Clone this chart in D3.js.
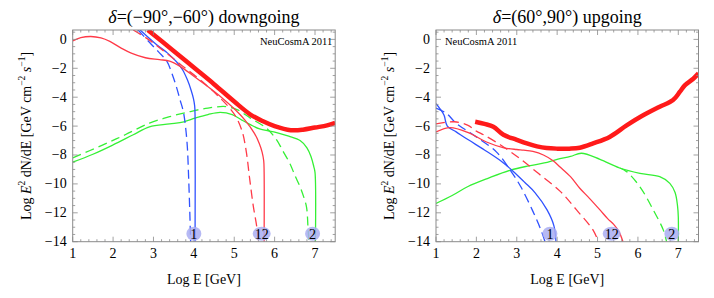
<!DOCTYPE html>
<html>
<head>
<meta charset="utf-8">
<script src="https://cdn.jsdelivr.net/npm/d3@7"></script>
<style>
  body { margin: 0; background: #fff; }
  svg text { font-family: "Liberation Serif", "Times New Roman", serif; }
</style>
</head>
<body>
<div id="chart"></div>
<script>
// tick values
var xTicks = [1, 2, 3, 4, 5, 6, 7];
var yTicks = [0, -2, -4, -6, -8, -10, -12, -14];

// downgoing panel, [log E, log flux]
var downThick = [[2.86,0.65],[3.5,-0.8],[4,-1.95],[4.5,-3.1],[5,-4.3],[5.4,-5.2],[5.7,-5.65],[6.0,-6.0],[6.4,-6.28],[6.7,-6.25],[7.0,-6.1],[7.3,-5.95],[7.5,-5.78]];
var downRedSolid = [[1,-0.1],[1.2,0.12],[1.45,0.2],[1.7,0.1],[1.92,-0.14],[2.2,-0.6],[2.45,-0.95],[2.8,-1.27],[3.15,-1.4],[3.4,-1.5],[3.65,-1.85],[4.0,-2.55],[4.36,-3.3],[4.7,-4.05],[5.0,-4.8],[5.27,-5.6],[5.5,-6.5],[5.62,-7.2],[5.69,-7.8],[5.73,-8.4],[5.74,-9.2],[5.74,-14]];
var downRedDash = [[2.5,0.65],[2.9,-0.05],[3.3,-0.9],[3.7,-1.8],[4.2,-2.9],[4.65,-4.05],[4.9,-4.8],[5.05,-5.4],[5.2,-6.4],[5.3,-7.8],[5.38,-9.6],[5.47,-11.5],[5.56,-13],[5.6,-14]];
var downBlueSolid = [[2.67,0.65],[3.08,-0.37],[3.35,-0.95],[3.57,-1.55],[3.72,-2.1],[3.84,-2.8],[3.93,-3.5],[3.99,-4.1],[4.02,-4.6],[4.03,-5.3],[4.03,-14]];
var downBlueDash = [[2.62,0.65],[2.9,-0.2],[3.12,-0.85],[3.33,-1.5],[3.45,-2.3],[3.57,-3.3],[3.66,-4.2],[3.74,-5.0],[3.8,-6.2],[3.84,-7.5],[3.87,-9.5],[3.9,-12],[3.92,-14]];
var downGreenSolid = [[1,-8.5],[1.5,-7.95],[2.0,-7.3],[2.5,-6.6],[2.9,-6.05],[3.4,-5.85],[3.75,-5.7],[4.03,-5.45],[4.35,-5.2],[4.65,-5.05],[4.95,-5.2],[5.2,-5.6],[5.4,-5.9],[5.63,-6.2],[6.05,-6.45],[6.35,-6.7],[6.63,-7.0],[6.8,-7.5],[6.9,-8.1],[6.97,-8.8],[7.0,-9.2],[7.01,-14]];
var downGreenDash = [[1,-8.2],[1.75,-7.3],[2.3,-6.6],[2.9,-5.8],[3.4,-5.35],[3.9,-5.0],[4.35,-4.75],[4.8,-4.65],[5.1,-4.9],[5.4,-5.45],[5.8,-6.15],[6.05,-6.95],[6.2,-7.7],[6.38,-8.6],[6.5,-9.4],[6.63,-10.2],[6.72,-10.9],[6.79,-11.6],[6.83,-13.2],[6.85,-14]];
var downLabels = [["1", 4.0], ["12", 5.68], ["2", 6.94]];

// upgoing panel
var upThick = [[1.97,-5.7],[2.2,-5.85],[2.42,-6.04],[2.67,-6.6],[3.0,-6.95],[3.25,-7.2],[3.5,-7.4],[3.74,-7.52],[4.0,-7.56],[4.3,-7.56],[4.56,-7.5],[4.89,-7.2],[5.3,-6.75],[5.72,-5.95],[6.13,-5.25],[6.54,-4.66],[6.87,-4.2],[7.04,-3.62],[7.16,-3.18],[7.37,-2.72],[7.5,-2.35]];
var upRedSolid = [[1,-6.4],[1.35,-6.1],[1.8,-6.45],[2.25,-7.1],[2.68,-7.5],[3.0,-7.62],[3.17,-7.66],[3.4,-7.75],[3.66,-8.0],[3.9,-8.4],[4.08,-8.85],[4.33,-9.5],[4.56,-10.3],[4.8,-11.0],[5.06,-11.8],[5.25,-12.4],[5.4,-12.8],[5.53,-13.3],[5.63,-14]];
var upRedDash = [[1,-5.85],[1.45,-5.7],[1.78,-5.93],[2.0,-6.35],[2.19,-6.62],[2.6,-7.31],[3.1,-8.3],[3.5,-9.2],[4.07,-10.5],[4.48,-11.8],[4.89,-13.2],[5.02,-14]];
var upBlueSolid = [[1,-4.45],[1.1,-4.8],[1.2,-5.25],[1.28,-6.0],[1.5,-6.4],[1.8,-6.95],[2.2,-7.65],[2.6,-8.4],[2.9,-9.1],[3.2,-9.9],[3.45,-10.6],[3.75,-11.8],[3.92,-12.9],[3.97,-14]];
var upBlueDash = [[1,-4.75],[1.25,-5.1],[1.5,-5.8],[2.0,-6.75],[2.5,-7.8],[2.85,-9.1],[3.1,-10.2],[3.4,-11.9],[3.6,-13.2],[3.7,-14]];
var upGreenSolid = [[1,-11.35],[1.4,-10.8],[1.78,-10.2],[2.3,-9.6],[2.85,-9.04],[3.3,-8.75],[3.68,-8.55],[4.0,-8.3],[4.33,-8.1],[4.6,-7.88],[5.06,-8.3],[5.55,-8.9],[6.05,-9.27],[6.54,-9.5],[6.79,-9.96],[6.92,-10.6],[6.98,-11.5],[7.0,-12.3],[7.0,-14]];
var upGreenDash = [[5.55,-8.9],[5.72,-9.15],[6.05,-10.2],[6.38,-11.8],[6.63,-13.2],[6.71,-14]];
var upLabels = [["1", 3.82], ["12", 5.35], ["2", 6.84]];

var svgWidth = 714;
var svgHeight = 298;

var svg = d3.select("#chart")
  .append("svg")
  .attr("width", svgWidth)
  .attr("height", svgHeight);

var RED = "#ff1a1a", THIN_RED = "#ff3a48", BLUE = "#3052ff", GREEN = "#35f035";

function drawPanel(p) {
  var x = d3.scaleLinear().domain([1, 7.5]).range([p.left, p.left + 262.5]);
  var y = d3.scaleLinear().domain([-14, 0.65]).range([241.7, 30]);
  var g = svg.append("g");

  g.append("clipPath").attr("id", p.id)
    .append("rect")
    .attr("x", x(1)).attr("y", y(0.65))
    .attr("width", x(7.5) - x(1)).attr("height", y(-14) - y(0.65));

  var line = d3.line()
    .x(d => x(d[0]))
    .y(d => y(d[1]))
    .curve(d3.curveCatmullRom.alpha(0.5));

  var curves = g.append("g").attr("clip-path", "url(#" + p.id + ")");
  p.series.forEach(function(s) {
    curves.append("path")
      .attr("d", line(s.data))
      .attr("fill", "none")
      .attr("stroke", s.color)
      .attr("stroke-width", s.width)
      .attr("stroke-dasharray", s.dash || null)
      .attr("stroke-linejoin", "round");
  });

  // frame
  g.append("rect")
    .attr("x", x(1)).attr("y", y(0.65))
    .attr("width", x(7.5) - x(1)).attr("height", y(-14) - y(0.65))
    .attr("fill", "none").attr("stroke", "#8a8a8a").attr("stroke-width", 1);

  // ticks, inward on all sides
  var ticks = g.append("g").attr("stroke", "#8a8a8a").attr("stroke-width", 0.8);
  d3.range(1, 7.5001, 0.2).forEach(function(v) {
    var major = Math.abs(v - Math.round(v)) < 1e-6;
    var len = major ? 5 : 2.5;
    ticks.append("line").attr("x1", x(v)).attr("x2", x(v)).attr("y1", y(-14)).attr("y2", y(-14) - len);
    ticks.append("line").attr("x1", x(v)).attr("x2", x(v)).attr("y1", y(0.65)).attr("y2", y(0.65) + len);
  });
  d3.range(-14, 0.6, 0.5).forEach(function(v) {
    var major = Math.abs(v / 2 - Math.round(v / 2)) < 1e-6;
    var len = major ? 5 : 2.5;
    ticks.append("line").attr("y1", y(v)).attr("y2", y(v)).attr("x1", x(1)).attr("x2", x(1) + len);
    ticks.append("line").attr("y1", y(v)).attr("y2", y(v)).attr("x1", x(7.5)).attr("x2", x(7.5) - len);
  });

  // tick labels
  g.selectAll(".xl").data(xTicks).enter().append("text")
    .attr("x", d => x(d)).attr("y", 258)
    .attr("text-anchor", "middle").attr("font-size", 14)
    .text(d => d);
  g.selectAll(".yl").data(yTicks).enter().append("text")
    .attr("x", x(1) - 6).attr("y", d => y(d) + 4.5)
    .attr("text-anchor", "end").attr("font-size", 14)
    .text(d => d3.format("")(d));

  // numbered markers at the cut-offs
  p.labels.forEach(function(l) {
    g.append("ellipse")
      .attr("cx", x(l[1])).attr("cy", y(-13.45))
      .attr("rx", l[0].length > 1 ? 9 : 7.5).attr("ry", 7)
      .attr("fill", "#a9adf2").attr("opacity", 0.85);
    g.append("text")
      .attr("x", x(l[1])).attr("y", y(-13.45) + 5)
      .attr("text-anchor", "middle").attr("font-size", 14)
      .text(l[0]);
  });

  // title
  var title = g.append("text")
    .attr("x", (x(1) + x(7.5)) / 2).attr("y", 23)
    .attr("text-anchor", "middle").attr("font-size", 18);
  title.append("tspan").attr("font-style", "italic").text("\u03b4");
  title.append("tspan").text(p.title);

  // watermark
  g.append("text")
    .attr("x", p.markRight ? x(7.5) - 3 : x(1) + 9)
    .attr("y", 45)
    .attr("text-anchor", p.markRight ? "end" : "start")
    .attr("font-size", 10.5)
    .text("NeuCosmA 2011");

  // axis labels
  g.append("text")
    .attr("x", (x(1) + x(7.5)) / 2).attr("y", 284)
    .attr("text-anchor", "middle").attr("font-size", 14)
    .text("Log E [GeV]");

  var yl = g.append("text")
    .attr("transform", "translate(" + (p.left - 42) + "," + 136 + ") rotate(-90)")
    .attr("text-anchor", "middle").attr("font-size", 14);
  yl.append("tspan").text("Log ");
  yl.append("tspan").attr("font-style", "italic").text("E");
  yl.append("tspan").attr("font-size", 9.5).attr("dy", -6).text("2");
  yl.append("tspan").attr("dy", 6).text(" dN/dE [GeV cm");
  yl.append("tspan").attr("font-size", 9.5).attr("dy", -6).text("\u22122");
  yl.append("tspan").attr("dy", 6).text(" ");
  yl.append("tspan").attr("font-style", "italic").text("s");
  yl.append("tspan").attr("font-size", 9.5).attr("dy", -6).text("\u22121");
  yl.append("tspan").attr("dy", 6).text("]");
}

drawPanel({
  id: "clipDown", left: 72.7, title: "=(\u221290\u00b0,\u221260\u00b0) downgoing",
  markRight: true, labels: downLabels,
  series: [
    {data: downGreenDash, color: GREEN, width: 1.3, dash: "9,5"},
    {data: downGreenSolid, color: GREEN, width: 1.3},
    {data: downBlueDash, color: BLUE, width: 1.3, dash: "9,5"},
    {data: downBlueSolid, color: BLUE, width: 1.3},
    {data: downRedDash, color: THIN_RED, width: 1.3, dash: "9,5"},
    {data: downRedSolid, color: THIN_RED, width: 1.3},
    {data: downThick, color: RED, width: 4.5}
  ]
});

drawPanel({
  id: "clipUp", left: 436, title: "=(60\u00b0,90\u00b0) upgoing",
  markRight: false, labels: upLabels,
  series: [
    {data: upGreenDash, color: GREEN, width: 1.3, dash: "9,5"},
    {data: upGreenSolid, color: GREEN, width: 1.3},
    {data: upBlueDash, color: BLUE, width: 1.3, dash: "9,5"},
    {data: upBlueSolid, color: BLUE, width: 1.3},
    {data: upRedDash, color: THIN_RED, width: 1.3, dash: "9,5"},
    {data: upRedSolid, color: THIN_RED, width: 1.3},
    {data: upThick, color: RED, width: 4.5}
  ]
});
</script>
</body>
</html>
